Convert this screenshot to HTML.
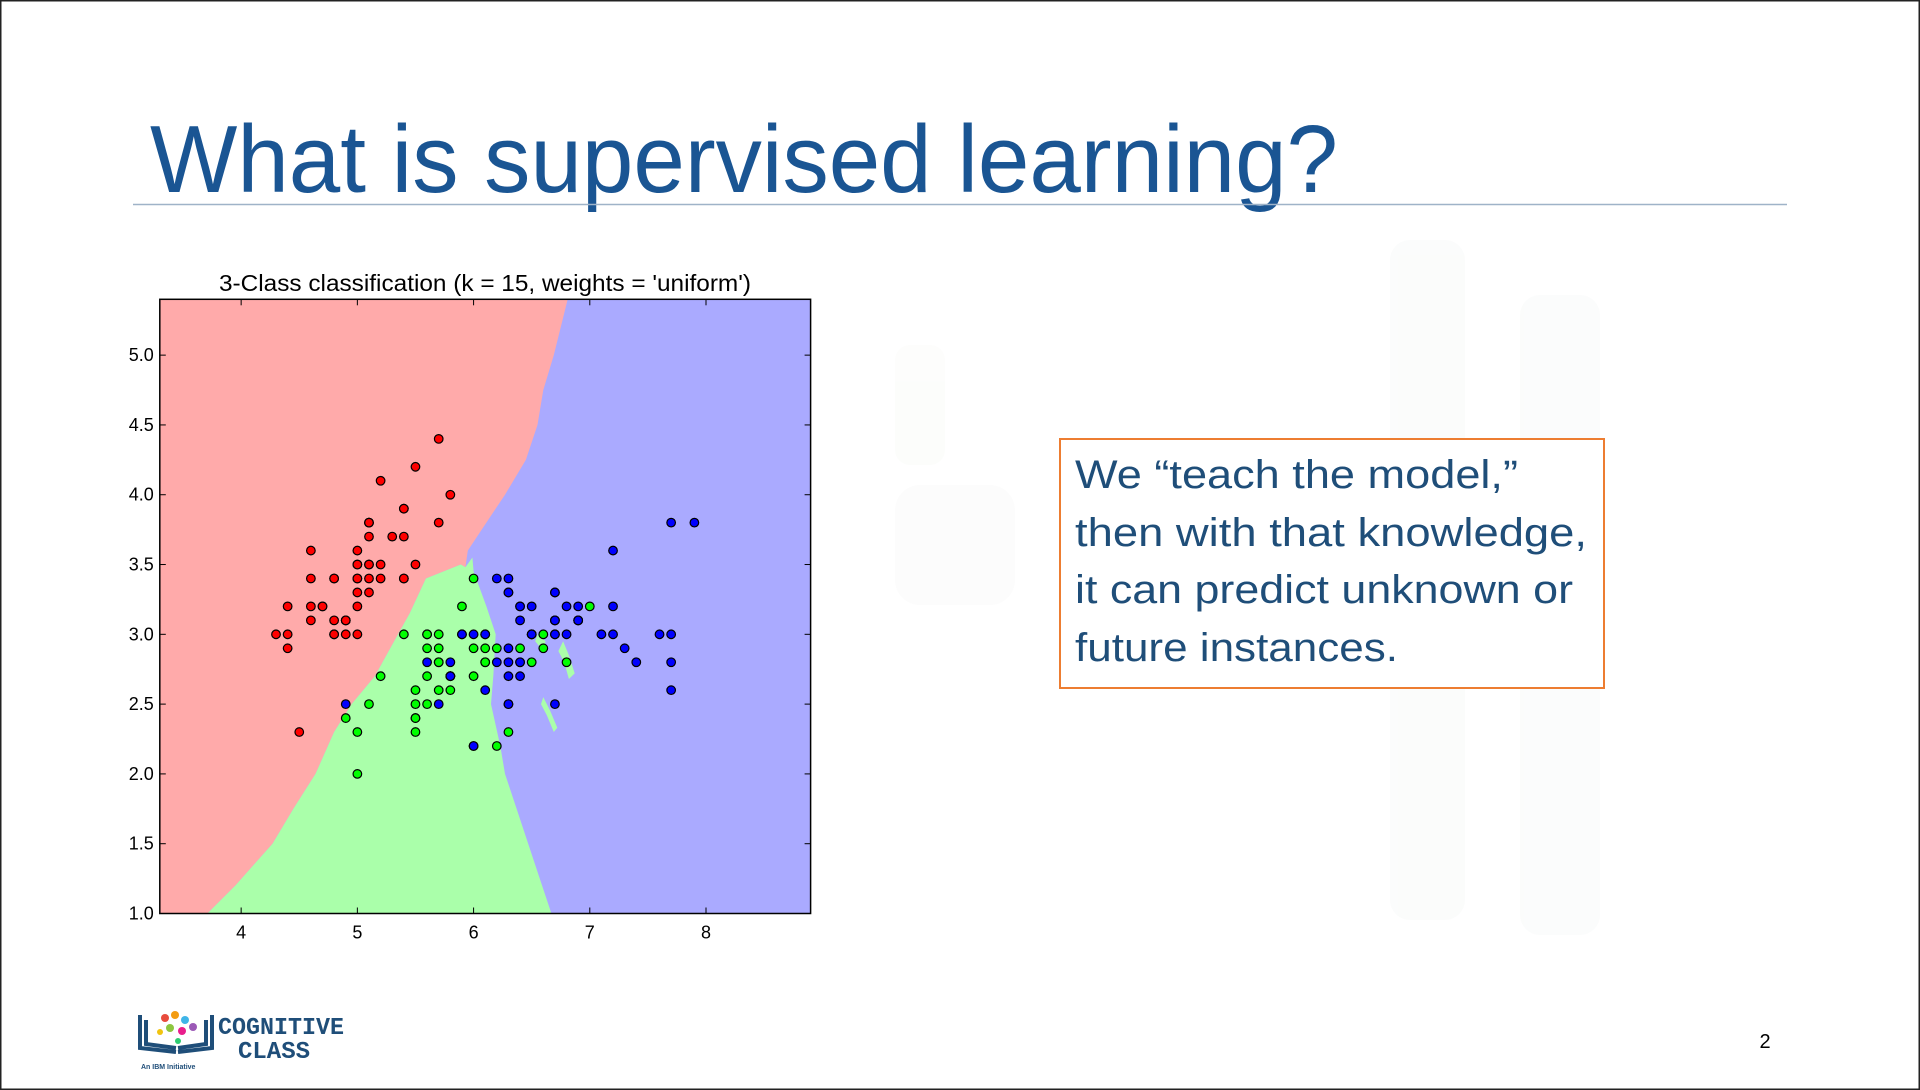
<!DOCTYPE html>
<html><head><meta charset="utf-8">
<style>
html,body{margin:0;padding:0;background:#fff;}
svg{display:block;}
</style></head>
<body>
<svg id="page" width="1920" height="1090" viewBox="0 0 1920 1090" xmlns="http://www.w3.org/2000/svg">
  <rect x="0" y="0" width="1920" height="1090" fill="#fff"/>
  <g opacity="0.3">
    <rect x="1390" y="240" width="75" height="680" rx="20" fill="#f3f6f4"/>
    <rect x="1520" y="295" width="80" height="640" rx="20" fill="#f3f6f4"/>
    <rect x="895" y="345" width="50" height="120" rx="15" fill="#f7faf4"/>
    <rect x="895" y="485" width="120" height="120" rx="25" fill="#f6f6f6"/>
  </g>
  <rect x="0" y="0" width="1920" height="1090" fill="none" stroke="#222" stroke-width="3"/>
  <text x="150" y="192" font-family="'Liberation Sans',sans-serif" font-size="96" fill="#1a5593" textLength="1188" lengthAdjust="spacingAndGlyphs">What is supervised learning?</text>
  <line x1="133" y1="204.5" x2="1787" y2="204.5" stroke="#9fb3c8" stroke-width="1.5"/>

  <g id="chart">
    <text x="485" y="291" text-anchor="middle" font-family="'Liberation Sans',sans-serif" font-size="23" fill="#000" textLength="532" lengthAdjust="spacingAndGlyphs">3-Class classification (k = 15, weights = 'uniform')</text>
    <g id="regions"></g>
    <g id="ticks"></g>
    <g id="points"></g>
    <rect id="frame" fill="none" stroke="#000" stroke-width="1.5"/>
  </g>

  <g>
    <rect x="1060" y="439" width="544" height="249" fill="#fff" stroke="#ed7d31" stroke-width="2"/>
    <g font-family="'Liberation Sans',sans-serif" font-size="40" fill="#1f4e79">
      <text x="1075" y="488" textLength="443" lengthAdjust="spacingAndGlyphs">We “teach the model,”</text>
      <text x="1075" y="546" textLength="512" lengthAdjust="spacingAndGlyphs">then with that knowledge,</text>
      <text x="1075" y="603" textLength="498" lengthAdjust="spacingAndGlyphs">it can predict unknown or</text>
      <text x="1075" y="661" textLength="323" lengthAdjust="spacingAndGlyphs">future instances.</text>
    </g>
  </g>

  <g>
    <path d="M140 1015 V1048 L176 1052 M146 1020 V1044 L176 1048 M212 1015 V1048 L178 1052 M206 1020 V1044 L178 1048" fill="none" stroke="#1f4e79" stroke-width="4"/>
    <circle cx="165" cy="1018" r="4" fill="#e84c3d"/><circle cx="175" cy="1015" r="4" fill="#f39c12"/>
    <circle cx="185" cy="1020" r="4" fill="#3fb5e8"/><circle cx="170" cy="1028" r="4" fill="#8dc63f"/>
    <circle cx="182" cy="1031" r="4" fill="#e91e8c"/><circle cx="193" cy="1027" r="4" fill="#9b59b6"/>
    <circle cx="160" cy="1032" r="3" fill="#f1c40f"/><circle cx="178" cy="1041" r="3" fill="#2ecc71"/>
    <text x="218" y="1034" font-family="'Liberation Mono',monospace" font-weight="bold" font-size="24" fill="#1f4e79" textLength="126" lengthAdjust="spacingAndGlyphs">COGNITIVE</text>
    <text x="238" y="1058" font-family="'Liberation Mono',monospace" font-weight="bold" font-size="24" fill="#1f4e79" textLength="72" lengthAdjust="spacingAndGlyphs">CLASS</text>
    <text x="141" y="1069" font-family="'Liberation Sans',sans-serif" font-weight="bold" font-size="7" fill="#1f4e79">An IBM Initiative</text>
  </g>
  <text x="1765" y="1048" text-anchor="middle" font-family="'Liberation Sans',sans-serif" font-size="20" fill="#000">2</text>
</svg>
<script>
const xTicks = [4, 5, 6, 7, 8];
const yTicks = [1.0, 1.5, 2.0, 2.5, 3.0, 3.5, 4.0, 4.5, 5.0];
const xDomain = [3.3, 8.9];
const yDomain = [1.0, 5.4];
// decision boundaries as [x, y] in data units
const redBlueBoundary = [[6.81,5.4],[6.69,5.0],[6.6,4.75],[6.55,4.5],[6.45,4.25],[6.27,4.0],[6.07,3.75],[5.95,3.6],[5.93,3.48]];
const redGreenBoundary = [[5.93,3.48],[5.89,3.5],[5.59,3.4],[5.45,3.15],[5.35,3.0],[5.15,2.7],[4.95,2.5],[4.8,2.3],[4.64,2.0],[4.45,1.75],[4.27,1.5],[3.95,1.2],[3.71,1.0]];
const greenBlueBoundary = [[3.71,1.0],[6.67,1.0],[6.59,1.2],[6.47,1.5],[6.37,1.75],[6.27,2.0],[6.23,2.2],[6.15,2.5],[6.17,2.7],[6.19,3.0],[6.11,3.2],[6.0,3.45],[5.99,3.55]];
const greenIslands = [
  [[6.77,2.95],[6.82,2.85],[6.87,2.72],[6.82,2.68],[6.78,2.8],[6.73,2.88]],
  [[6.6,2.55],[6.66,2.45],[6.72,2.33],[6.69,2.3],[6.63,2.42],[6.58,2.5]],
  [[6.55,3.0],[6.62,2.95],[6.6,2.88],[6.53,2.95]]
];
const setosaX = [5.1,4.9,4.7,4.6,5.0,5.4,4.6,5.0,4.4,4.9,5.4,4.8,4.8,4.3,5.8,5.7,5.4,5.1,5.7,5.1,5.4,5.1,4.6,5.1,4.8,5.0,5.0,5.2,5.2,4.7,4.8,5.4,5.2,5.5,4.9,5.0,5.5,4.9,4.4,5.1,5.0,4.5,4.4,5.0,5.1,4.8,5.1,4.6,5.3,5.0];
const setosaY = [3.5,3.0,3.2,3.1,3.6,3.9,3.4,3.4,2.9,3.1,3.7,3.4,3.0,3.0,4.0,4.4,3.9,3.5,3.8,3.8,3.4,3.7,3.6,3.3,3.4,3.0,3.4,3.5,3.4,3.2,3.1,3.4,4.1,4.2,3.1,3.2,3.5,3.1,3.0,3.4,3.5,2.3,3.2,3.5,3.8,3.0,3.8,3.2,3.7,3.3];
const versicolorX = [7.0,6.4,6.9,5.5,6.5,5.7,6.3,4.9,6.6,5.2,5.0,5.9,6.0,6.1,5.6,6.7,5.6,5.8,6.2,5.6,5.9,6.1,6.3,6.1,6.4,6.6,6.8,6.7,6.0,5.7,5.5,5.5,5.8,6.0,5.4,6.0,6.7,6.3,5.6,5.5,5.5,6.1,5.8,5.0,5.6,5.7,5.7,6.2,5.1,5.7];
const versicolorY = [3.2,3.2,3.1,2.3,2.8,2.8,3.3,2.4,2.9,2.7,2.0,3.0,2.2,2.9,2.9,3.1,3.0,2.7,2.2,2.5,3.2,2.8,2.5,2.8,2.9,3.0,2.8,3.0,2.9,2.6,2.4,2.4,2.7,2.7,3.0,3.4,3.1,2.3,3.0,2.5,2.6,3.0,2.6,2.3,2.7,3.0,2.9,2.9,2.5,2.8];
const virginicaX = [6.3,5.8,7.1,6.3,6.5,7.6,4.9,7.3,6.7,7.2,6.5,6.4,6.8,5.7,5.8,6.4,6.5,7.7,7.7,6.0,6.9,5.6,7.7,6.3,6.7,7.2,6.2,6.1,6.4,7.2,7.4,7.9,6.4,6.3,6.1,7.7,6.3,6.4,6.0,6.9,6.7,6.9,5.8,6.8,6.7,6.7,6.3,6.5,6.2,5.9];
const virginicaY = [3.3,2.7,3.0,2.9,3.0,3.0,2.5,2.9,2.5,3.6,3.2,2.7,3.0,2.5,2.8,3.2,3.0,3.8,2.6,2.2,3.2,2.8,2.8,2.7,3.3,3.2,2.8,3.0,2.8,3.0,2.8,3.8,2.8,2.8,2.6,3.0,3.4,3.1,3.0,3.1,3.1,3.1,2.7,3.2,3.3,3.0,2.5,3.0,3.4,3.0];

const L = 159.8, R = 810.6, T = 299.3, B = 913.5;
const NS = 'http://www.w3.org/2000/svg';
function sx(v){ return L + (v - xDomain[0]) / (xDomain[1] - xDomain[0]) * (R - L); }
function sy(v){ return B - (v - yDomain[0]) / (yDomain[1] - yDomain[0]) * (B - T); }
function mk(tag, attrs, parent){ const e = document.createElementNS(NS, tag); for (const k in attrs) e.setAttribute(k, attrs[k]); parent.appendChild(e); return e; }
function pts(arr){ return arr.map(p => sx(p[0]).toFixed(1) + ',' + sy(p[1]).toFixed(1)).join(' '); }

const regions = document.getElementById('regions');
const blue = mk('rect', {x:L, y:T, width:R-L, height:B-T, fill:'#aaaaff'}, regions);


const redPoly = [[xDomain[0], yDomain[1]]].concat(redBlueBoundary, redGreenBoundary, [[xDomain[0], yDomain[0]]]);
const red = mk('polygon', {points: pts(redPoly), fill:'#ffaaaa'}, regions);


const greenPoly = redGreenBoundary.concat(greenBlueBoundary.slice(1));
const green = mk('polygon', {points: pts(greenPoly), fill:'#aaffaa'}, regions);


greenIslands.forEach(isl => {
  const g = mk('polygon', {points: pts(isl), fill:'#aaffaa'}, regions);
  
  
});

const frame = document.getElementById('frame');
frame.setAttribute('x', L); frame.setAttribute('y', T);
frame.setAttribute('width', R - L); frame.setAttribute('height', B - T);

const ticks = document.getElementById('ticks');
xTicks.forEach(v => {
  const x = sx(v);
  mk('line', {x1:x, y1:B, x2:x, y2:B-6, stroke:'#000', 'stroke-width':1}, ticks);
  mk('line', {x1:x, y1:T, x2:x, y2:T+6, stroke:'#000', 'stroke-width':1}, ticks);
  const t = mk('text', {x:x, y:B+25, 'text-anchor':'middle', 'font-family':"'Liberation Sans',sans-serif", 'font-size':18}, ticks);
  t.textContent = String(v);
  
  
});
yTicks.forEach(v => {
  const y = sy(v);
  mk('line', {x1:L, y1:y, x2:L+6, y2:y, stroke:'#000', 'stroke-width':1}, ticks);
  mk('line', {x1:R, y1:y, x2:R-6, y2:y, stroke:'#000', 'stroke-width':1}, ticks);
  const t = mk('text', {x:L-6, y:y+6, 'text-anchor':'end', 'font-family':"'Liberation Sans',sans-serif", 'font-size':18}, ticks);
  t.textContent = v.toFixed(1);
  
  
});

const pg = document.getElementById('points');
function drawSeries(xs, ys, color, name){
  xs.forEach((xv, i) => {
    const c = mk('circle', {cx: sx(xv), cy: sy(ys[i]), r: 4.3, fill: color, stroke:'#000', 'stroke-width':1.2}, pg);
    
    
  });
}
drawSeries(setosaX, setosaY, '#ff0000', 'point-class-0');
drawSeries(versicolorX, versicolorY, '#00ff00', 'point-class-1');
drawSeries(virginicaX, virginicaY, '#0000ff', 'point-class-2');
</script>
</body></html>
